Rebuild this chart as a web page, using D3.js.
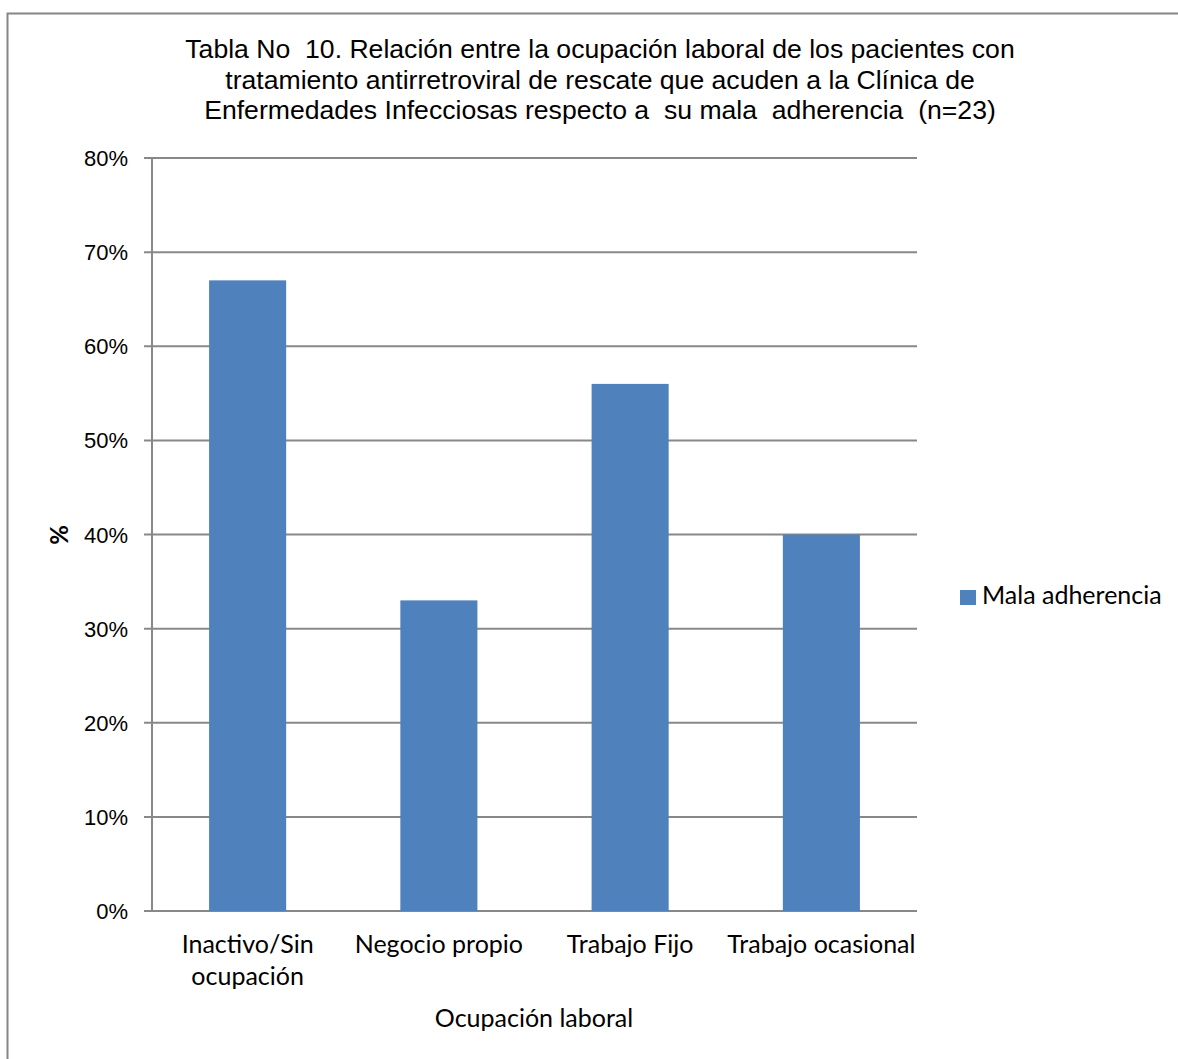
<!DOCTYPE html>
<html>
<head>
<meta charset="utf-8">
<script src="https://cdn.jsdelivr.net/npm/d3@7"></script>
<style>
  html, body { margin: 0; padding: 0; background: #fff; }
  svg { display: block; }
  text { white-space: pre; }
</style>
</head>
<body>
<svg id="chart" width="1178" height="1059"></svg>
<script>
// Chart data
const categories = ["Inactivo/Sin ocupación", "Negocio propio", "Trabajo Fijo", "Trabajo ocasional"];
const categoryLines = [["Inactivo/Sin", "ocupación"], ["Negocio propio"], ["Trabajo Fijo"], ["Trabajo ocasional"]];
const seriesName = "Mala adherencia";
const values = [67, 33, 56, 40];
const yTicks = [0, 10, 20, 30, 40, 50, 60, 70, 80];
const titleLines = [
  "Tabla No  10. Relación entre la ocupación laboral de los pacientes con",
  "tratamiento antirretroviral de rescate que acuden a la Clínica de",
  "Enfermedades Infecciosas respecto a  su mala  adherencia  (n=23)"
];
const xTitle = "Ocupación laboral";
const yTitle = "%";

const svg = d3.select("#chart");
const W = 1178, H = 1059;
const plot = { left: 152, right: 917, top: 158, bottom: 911 };
const barColor = "#4F81BD";
const gridColor = "#888888";
const sans = "'Liberation Sans', Arial, sans-serif";
const cal = "Lato, 'Open Sans', sans-serif";

// Outer frame (left and top edges visible)
svg.append("path")
  .attr("d", `M7.5,${H} V13.5 H${W}`)
  .attr("fill", "none").attr("stroke", "#868686").attr("stroke-width", 2);

// Title
const title = svg.append("text")
  .attr("text-anchor", "middle")
  .attr("xml:space", "preserve")
  .attr("font-family", sans).attr("font-size", 26.6).attr("fill", "#000");
titleLines.forEach((t, i) => {
  title.append("tspan").attr("x", 600).attr("y", 58 + i * 30.5).text(t);
});

const x = d3.scaleBand().domain(categories).range([plot.left, plot.right]).paddingInner(0.597).paddingOuter(0.2985);
const y = d3.scaleLinear().domain([0, 80]).range([plot.bottom, plot.top]);

// Gridlines
svg.append("g").selectAll("line").data(yTicks).join("line")
  .attr("x1", plot.left - 8).attr("x2", plot.right)
  .attr("y1", d => y(d)).attr("y2", d => y(d))
  .attr("stroke", gridColor).attr("stroke-width", 2);

// Y axis line
svg.append("line")
  .attr("x1", plot.left).attr("x2", plot.left)
  .attr("y1", plot.top).attr("y2", plot.bottom)
  .attr("stroke", gridColor).attr("stroke-width", 2);

// Y tick labels
svg.append("g").selectAll("text").data(yTicks).join("text")
  .attr("x", plot.left - 24).attr("y", d => y(d) + 8)
  .attr("text-anchor", "end")
  .attr("font-family", sans).attr("font-size", 22).attr("fill", "#000")
  .text(d => d + "%");

// Bars
svg.append("g").selectAll("rect").data(values).join("rect")
  .attr("x", (d, i) => x(categories[i]))
  .attr("width", x.bandwidth())
  .attr("y", d => y(d))
  .attr("height", d => y(0) - y(d))
  .attr("fill", barColor);

// Category labels
const catG = svg.append("g");
categoryLines.forEach((lines, i) => {
  const cx = x(categories[i]) + x.bandwidth() / 2;
  const t = catG.append("text")
    .attr("text-anchor", "middle")
    .attr("font-family", cal).attr("font-size", 25).attr("fill", "#000");
  lines.forEach((ln, j) => {
    t.append("tspan").attr("x", cx).attr("y", 953 + j * 32).text(ln);
  });
});

// Axis titles
svg.append("text")
  .attr("x", 534).attr("y", 1027)
  .attr("text-anchor", "middle")
  .attr("font-family", cal).attr("font-size", 25).attr("fill", "#000")
  .text(xTitle);

svg.append("text")
  .attr("transform", `translate(68,535) rotate(-90)`)
  .attr("text-anchor", "middle")
  .attr("font-family", cal).attr("font-size", 24).attr("font-weight", "bold").attr("fill", "#000")
  .text(yTitle);

// Legend
const lg = svg.append("g").attr("transform", "translate(960,590)");
lg.append("rect").attr("width", 16).attr("height", 15).attr("fill", barColor);
lg.append("text").attr("x", 22).attr("y", 14)
  .attr("font-family", cal).attr("font-size", 25).attr("fill", "#000")
  .text(seriesName);
</script>
</body>
</html>
